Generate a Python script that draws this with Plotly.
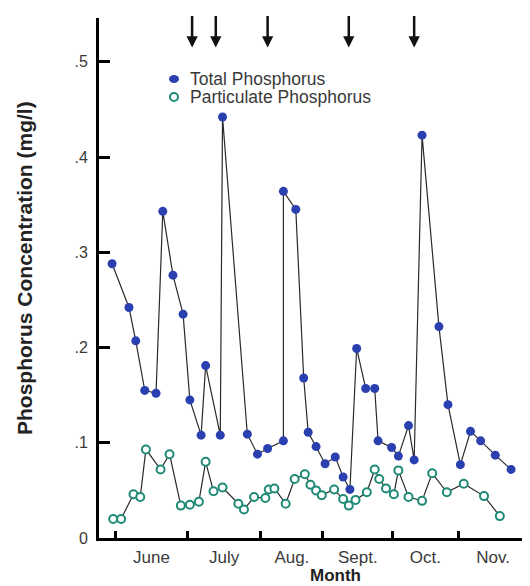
import plotly.graph_objects as go

# ---- data (x = days after 31 May) ----
total_day = [-1.5, 6, 9, 13, 18, 21, 25.5, 30, 33, 38, 40, 46.5, 47.5, 58.5, 63, 67.5,
             74.5, 74.5, 80, 83.5, 85.5, 89, 93, 97.5, 101, 104, 107, 111, 115, 116.5,
             122.5, 125.5, 130, 132.5, 136, 143.5, 147.5, 153, 157.5, 162, 168.5, 175.5]
total_p = [0.288, 0.242, 0.207, 0.155, 0.152, 0.343, 0.276, 0.235, 0.145, 0.108, 0.181,
           0.108, 0.442, 0.109, 0.088, 0.094, 0.102, 0.364, 0.345, 0.168, 0.111, 0.096,
           0.078, 0.085, 0.064, 0.051, 0.199, 0.157, 0.157, 0.102, 0.095, 0.086, 0.118,
           0.082, 0.423, 0.222, 0.140, 0.077, 0.112, 0.102, 0.087, 0.072]

part_day = [-1, 2.5, 8, 11, 13.5, 20, 24, 29, 33, 37, 40, 43.5, 47.5, 54.5, 57, 61.5,
            66.5, 68, 70.5, 75.5, 79.5, 84, 86.5, 89, 91.5, 97, 101, 103.5, 106.5, 111.5,
            115, 117, 120, 123.5, 125.5, 130, 136, 140.5, 147, 154.5, 163.5, 170.5]
part_p = [0.020, 0.020, 0.046, 0.043, 0.093, 0.072, 0.088, 0.034, 0.035, 0.038, 0.080,
          0.049, 0.053, 0.036, 0.030, 0.043, 0.042, 0.051, 0.052, 0.036, 0.062, 0.067,
          0.056, 0.050, 0.045, 0.051, 0.041, 0.034, 0.040, 0.048, 0.072, 0.062, 0.052,
          0.046, 0.071, 0.043, 0.039, 0.068, 0.048, 0.057, 0.044, 0.023]

month_bounds = [0, 32, 64.5, 92, 123, 152, 183]
month_labels = ["June", "July", "Aug.", "Sept.", "Oct.", "Nov."]
arrow_days = [34, 44.5, 67.5, 103.5, 132.5]
y_ticks = [0, 0.1, 0.2, 0.3, 0.4, 0.5]
y_ticktext = ["0", ".1", ".2", ".3", ".4", ".5"]
series_names = ["Total Phosphorus", "Particulate Phosphorus"]

FONT = "Liberation Sans, Arial, Helvetica, sans-serif"
BLUE = "#2b40b0"
TEAL = "#1f8a76"
LINE = "#2a2a2a"
TXT = "#3a3a3a"

# page body has an 8px margin, so the figure is sized to fit the 530x586 window
OFF = 8
W, H = 530 - OFF, 586 - OFF
L, R, T, B = 91, 2, 10, 48
pw, ph = W - L - R, H - T - B


def px_x(p):
    return (p - OFF - L) / pw


def px_y(p):
    return (H - B - (p - OFF)) / ph


fig = go.Figure()
fig.add_trace(go.Scatter(
    x=total_day, y=total_p, mode="lines+markers", name=series_names[0],
    line=dict(color=LINE, width=1.2),
    marker=dict(color=BLUE, size=9, line=dict(width=0)),
    showlegend=False, cliponaxis=False))
fig.add_trace(go.Scatter(
    x=part_day, y=part_p, mode="lines+markers", name=series_names[1],
    line=dict(color=LINE, width=1.2),
    marker=dict(color="white", size=8, line=dict(color=TEAL, width=2)),
    showlegend=False, cliponaxis=False))

mids = [(a + b) / 2 for a, b in zip(month_bounds[:-1], month_bounds[1:])]

fig.update_xaxes(
    range=[-7.3, 183], showline=True, linecolor="black", linewidth=3,
    showgrid=False, zeroline=False, mirror=False,
    tickmode="array", tickvals=mids, ticktext=month_labels, ticks="",
    ticklabelstandoff=2,
    tickfont=dict(family=FONT, size=17, color=TXT),
    minor=dict(tickmode="array", tickvals=month_bounds, ticks="inside",
               ticklen=7, tickwidth=3, tickcolor="black", showgrid=False))
fig.update_yaxes(
    range=[0, 0.546], showline=True, linecolor="black", linewidth=3,
    showgrid=False, zeroline=False,
    tickmode="array", tickvals=y_ticks, ticktext=y_ticktext,
    ticks="inside", ticklen=11, tickwidth=3, tickcolor="black",
    ticklabelstandoff=5,
    tickfont=dict(family=FONT, size=16, color=TXT))

ann = []
for d in arrow_days:
    ann.append(dict(x=d, y=0.515, xref="x", yref="y", text="", showarrow=True,
                    ax=0, ay=-33, arrowhead=2, arrowsize=0.9, arrowwidth=2.5,
                    arrowcolor="#111"))
ann.append(dict(x=px_x(24), y=px_y(268), xref="paper", yref="paper",
                text="Phosphorus Concentration (mg/l)", textangle=-90, showarrow=False,
                xanchor="center", yanchor="middle",
                font=dict(family=FONT, size=21, color="#222", weight="bold")))
ann.append(dict(x=px_x(335), y=px_y(575), xref="paper", yref="paper", text="Month",
                showarrow=False, xanchor="center", yanchor="middle",
                font=dict(family=FONT, size=17, color="#222", weight="bold")))
# legend
legend_rows = [79, 97]
for name, ry in zip(series_names, legend_rows):
    ann.append(dict(x=px_x(188), y=px_y(ry), xref="paper", yref="paper", text=name,
                    showarrow=False, xanchor="left", yanchor="middle",
                    font=dict(family=FONT, size=17.5, color=TXT)))

shapes = [
    dict(type="circle", xref="paper", yref="paper",
         x0=px_x(169), x1=px_x(179), y0=px_y(83), y1=px_y(75),
         fillcolor=BLUE, line=dict(width=0)),
    dict(type="circle", xref="paper", yref="paper",
         x0=px_x(170), x1=px_x(178), y0=px_y(101), y1=px_y(93),
         fillcolor="white", line=dict(color=TEAL, width=2)),
]

fig.update_layout(
    width=W, height=H, margin=dict(l=L, r=R, t=T, b=B),
    paper_bgcolor="white", plot_bgcolor="white",
    font=dict(family=FONT, color=TXT),
    annotations=ann, shapes=shapes, showlegend=False)

fig.write_html("out.html")
